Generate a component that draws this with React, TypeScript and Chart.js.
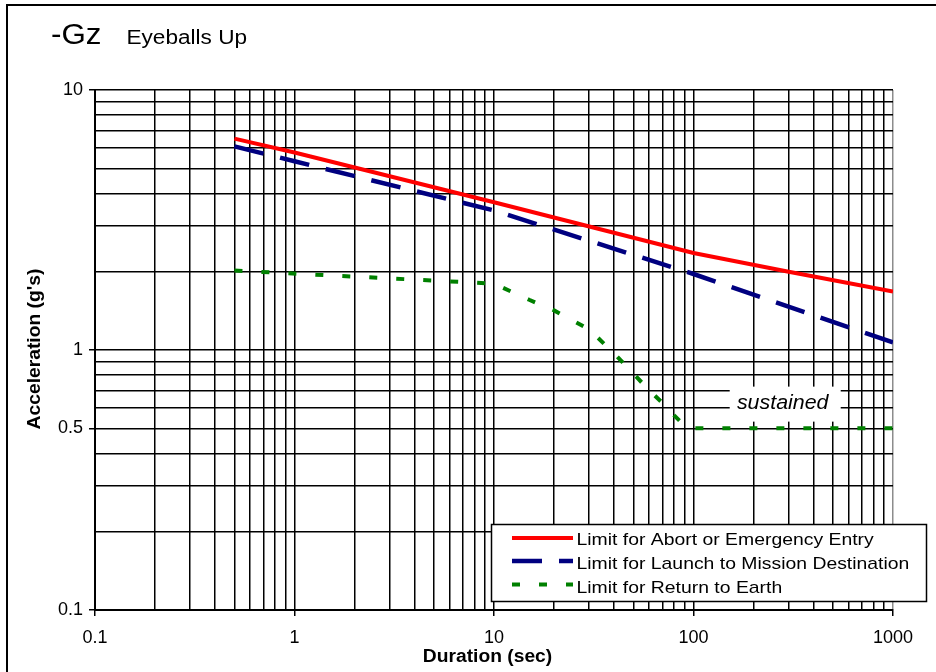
import React, { useEffect, useRef } from 'react';
import { Chart, registerables } from 'chart.js';

Chart.register(...registerables);

// ---- data ----
const abortDuration = [0.5, 1, 10, 100, 300, 1000];
const abortLimit = [6.5, 5.75, 3.7, 2.36, 2.0, 1.68];

const launchDuration = [0.5, 1, 10, 100, 1000];
const launchLimit = [6.07, 5.32, 3.44, 1.96, 1.07];

const returnDuration = [0.5, 10, 15, 20, 30, 40, 50, 60, 70, 80, 93, 1000];
const returnLimit = [2.02, 1.8, 1.56, 1.42, 1.2, 0.97, 0.81, 0.7, 0.625, 0.56, 0.5, 0.5];

const seriesNames = [
  'Limit for Abort or Emergency Entry',
  'Limit for Launch to Mission Destination',
  'Limit for Return to Earth',
];

const xTickLabels = [0.1, 1, 10, 100, 1000];
const yTickLabels = [0.1, 0.5, 1, 10];
const gridMantissas = [1, 2, 3, 4, 5, 6, 7, 8, 9];

const titleMain = '-Gz';
const titleSub = 'Eyeballs Up';
const xTitle = 'Duration (sec)';
const yTitle = "Acceleration (g's)";
const sustainedNote = { text: 'sustained', x: 280, y: 0.595 };

const FONT = '"Liberation Sans", Arial, Helvetica, sans-serif';

function pts(xs: number[], ys: number[]) {
  return xs.map((x, i) => ({ x, y: ys[i] }));
}

function findLabel(v: number, list: number[]) {
  return list.find((l) => Math.abs(v - l) / l < 1e-6);
}

function logTicks(min: number, max: number) {
  const out: { value: number }[] = [];
  const d0 = Math.round(Math.log10(min));
  const d1 = Math.round(Math.log10(max));
  for (let d = d0; d < d1; d++) {
    for (const m of gridMantissas) {
      out.push({ value: Number((m * Math.pow(10, d)).toPrecision(6)) });
    }
  }
  out.push({ value: max });
  return out;
}

function stretchText(
  ctx: CanvasRenderingContext2D,
  s: string,
  x: number,
  y: number,
  font: string,
  sx: number,
  align: CanvasTextAlign,
  baseline: CanvasTextBaseline,
  rotate = 0
) {
  ctx.save();
  ctx.font = font;
  ctx.fillStyle = '#000';
  ctx.textAlign = align;
  ctx.textBaseline = baseline;
  ctx.translate(x, y);
  if (rotate) ctx.rotate(rotate);
  ctx.scale(sx, 1);
  ctx.fillText(s, 0, 0);
  ctx.restore();
}

const decor = {
  id: 'decor',
  beforeDraw(chart: any) {
    const { ctx, width, height } = chart;
    ctx.save();
    ctx.fillStyle = '#fff';
    ctx.fillRect(0, 0, width, height);
    ctx.strokeStyle = '#000';
    ctx.lineWidth = 2;
    ctx.strokeRect(7, 5, width + 20, height + 20);
    ctx.restore();
  },
  beforeDatasetsDraw(chart: any) {
    const { ctx } = chart;
    const px = chart.scales.x.getPixelForValue(sustainedNote.x);
    const py = chart.scales.y.getPixelForValue(sustainedNote.y);
    ctx.save();
    ctx.fillStyle = '#fff';
    ctx.fillRect(px - 53, py - 22, 111, 35);
    ctx.restore();
    stretchText(ctx, sustainedNote.text, px, py, `italic 20px ${FONT}`, 1.07, 'center', 'alphabetic');
  },
  afterDatasetsDraw(chart: any) {
    const { ctx } = chart;
    const bx = 491, by = 524, bw = 435, bh = 77;
    ctx.save();
    ctx.fillStyle = '#fff';
    ctx.fillRect(bx, by, bw, bh);
    ctx.strokeStyle = '#000';
    ctx.lineWidth = 1.5;
    ctx.strokeRect(bx + 0.5, by + 0.5, bw, bh);
    const lineYs = [538, 561, 584.5];
    const textYs = [545, 568.5, 592.5];
    chart.data.datasets.forEach((ds: any, i: number) => {
      ctx.save();
      ctx.strokeStyle = ds.borderColor;
      ctx.lineWidth = ds.borderWidth;
      ctx.lineCap = 'butt';
      ctx.setLineDash(ds.borderDash || []);
      ctx.beginPath();
      ctx.moveTo(512, lineYs[i]);
      ctx.lineTo(573, lineYs[i]);
      ctx.stroke();
      ctx.restore();
      stretchText(ctx, ds.label, 576.5, textYs[i], `17px ${FONT}`, 1.14, 'left', 'alphabetic');
    });
    ctx.restore();
  },
  afterDraw(chart: any) {
    const { ctx } = chart;
    stretchText(ctx, titleMain, 51, 43.5, `29px ${FONT}`, 1.08, 'left', 'alphabetic');
    stretchText(ctx, titleSub, 126.5, 43.5, `20px ${FONT}`, 1.13, 'left', 'alphabetic');
    stretchText(ctx, xTitle, 487.5, 662, `bold 17.5px ${FONT}`, 1.1, 'center', 'alphabetic');
    stretchText(ctx, yTitle, 39.5, 349, `bold 17.5px ${FONT}`, 1.1, 'center', 'alphabetic', -Math.PI / 2);
  },
};

export default function App() {
  const ref = useRef<HTMLCanvasElement | null>(null);

  useEffect(() => {
    if (!ref.current) return;
    const chart = new Chart(ref.current, {
      type: 'line',
      data: {
        datasets: [
          {
            label: seriesNames[0],
            data: pts(abortDuration, abortLimit),
            borderColor: '#FF0000',
            borderWidth: 4,
            pointRadius: 0,
            tension: 0,
            borderCapStyle: 'butt',
          },
          {
            label: seriesNames[1],
            data: pts(launchDuration, launchLimit),
            borderColor: '#000080',
            borderWidth: 4.5,
            borderDash: [30, 17],
            pointRadius: 0,
            tension: 0,
            borderCapStyle: 'butt',
          },
          {
            label: seriesNames[2],
            data: pts(returnDuration, returnLimit),
            borderColor: '#008000',
            borderWidth: 4,
            borderDash: [8, 19],
            pointRadius: 0,
            tension: 0,
            borderCapStyle: 'butt',
          },
        ] as any,
      },
      options: {
        animation: false,
        responsive: false,
        devicePixelRatio: 1,
        events: [],
        layout: { padding: { left: 0, top: 90, right: 43, bottom: 0 } },
        plugins: {
          legend: { display: false },
          tooltip: { enabled: false },
          title: { display: false },
        },
        scales: {
          x: {
            type: 'logarithmic',
            min: 0.1,
            max: 1000,
            afterBuildTicks: (scale: any) => {
              scale.ticks = logTicks(0.1, 1000);
            },
            afterFit: (scale: any) => {
              scale.height = 62;
            },
            ticks: {
              autoSkip: false,
              maxRotation: 0,
              minRotation: 0,
              padding: 11,
              color: '#000',
              font: { family: FONT, size: 18 },
              callback: (v: any) => {
                const l = findLabel(Number(v), xTickLabels);
                return l === undefined ? '' : String(l);
              },
            },
            grid: {
              color: (c: any) => (c.tick && c.tick.value >= 999 ? '#8c8c8c' : '#000'),
              lineWidth: 1.5,
              tickLength: 6,
              tickColor: (c: any) => (c.tick && findLabel(c.tick.value, xTickLabels) !== undefined ? '#000' : 'rgba(0,0,0,0)'),
            },
            border: { display: true, color: '#000', width: 2 },
          },
          y: {
            type: 'logarithmic',
            min: 0.1,
            max: 10,
            afterBuildTicks: (scale: any) => {
              scale.ticks = logTicks(0.1, 10);
            },
            afterFit: (scale: any) => {
              scale.width = 95;
            },
            ticks: {
              autoSkip: false,
              padding: 6,
              color: '#000',
              font: { family: FONT, size: 18 },
              callback: (v: any) => {
                const l = findLabel(Number(v), yTickLabels);
                return l === undefined ? '' : String(l);
              },
            },
            grid: {
              color: '#000',
              lineWidth: 1.5,
              tickLength: 6,
              tickColor: (c: any) => (c.tick && findLabel(c.tick.value, yTickLabels) !== undefined ? '#000' : 'rgba(0,0,0,0)'),
            },
            border: { display: true, color: '#000', width: 2 },
          },
        },
      } as any,
      plugins: [decor],
    });
    return () => chart.destroy();
  }, []);

  return (
    <div style={{ position: 'absolute', left: 0, top: 0, width: 936, height: 672 }}>
      <canvas ref={ref} width={936} height={672} style={{ display: 'block' }} />
    </div>
  );
}
